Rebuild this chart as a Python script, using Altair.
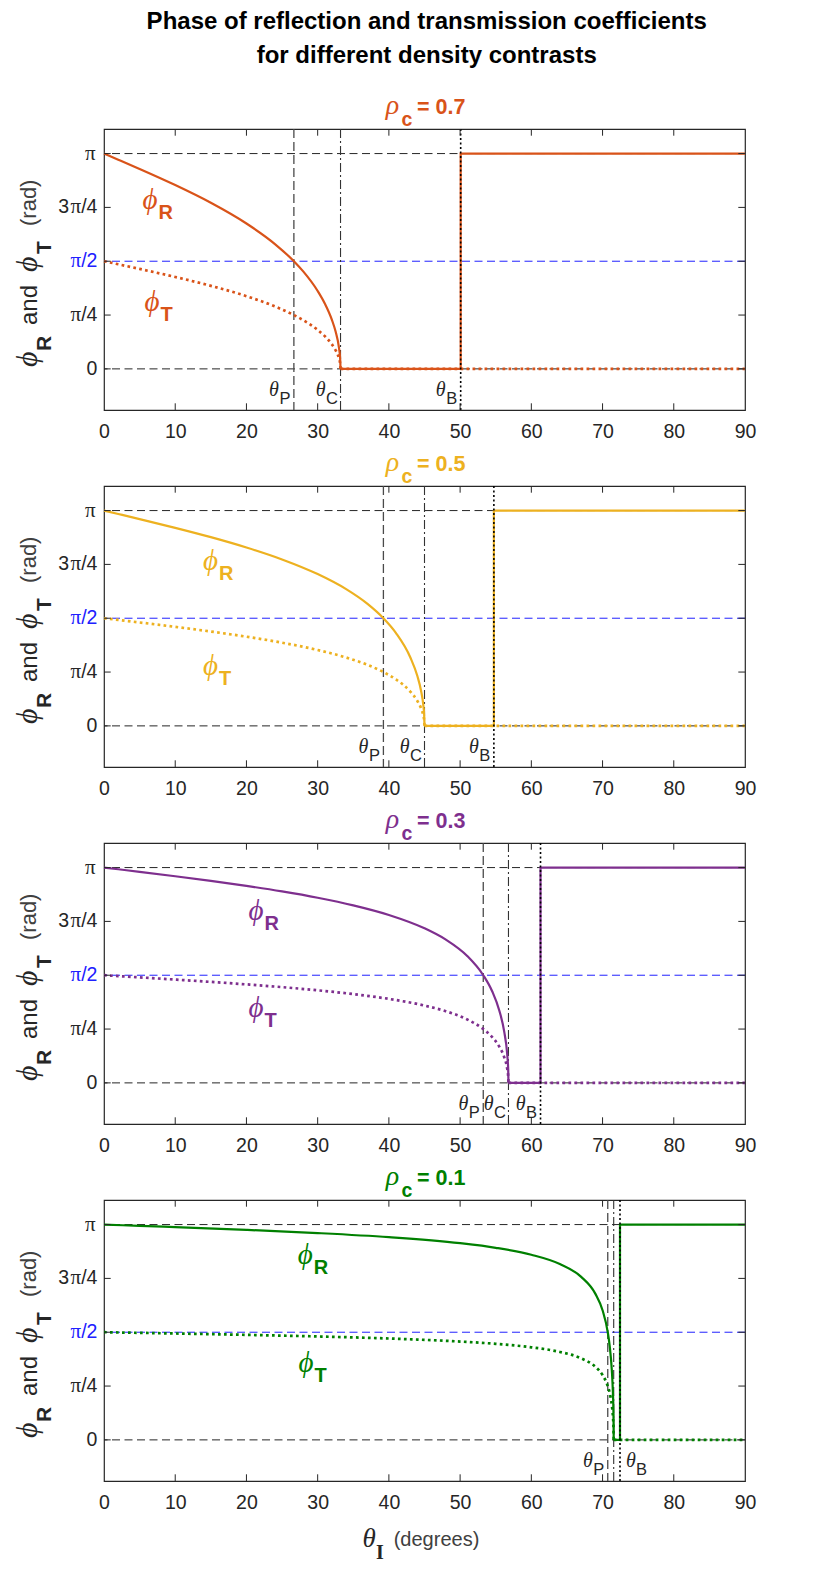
import altair as alt
import pandas as pd

# ---------------- data ----------------
TITLE = ["Phase of reflection and transmission coefficients",
         "for different density contrasts"]
RHO_TXT = ["= 0.7", "= 0.5", "= 0.3", "= 0.1"]
COLORS = ["#D95319", "#EDB120", "#7E2F8E", "#008000"]

# phase curves below the critical angle (theta in degrees, phase in rad)
THETA_07 = [0, 2, 5, 10, 15, 20, 24, 26.66, 28, 30, 31, 32, 32.5, 33, 33.15, 33.21]
PHIR_07 = [3.1416, 3.0523, 2.9169, 2.6819, 2.4235, 2.1212, 1.8216, 1.5708, 1.4188,
           1.1370, 0.9543, 0.7148, 0.5512, 0.3022, 0.1624, 0.0]
PHIT_07 = [1.5708, 1.5262, 1.4585, 1.3410, 1.2118, 1.0606, 0.9108, 0.7854, 0.7094,
           0.5685, 0.4772, 0.3574, 0.2756, 0.1511, 0.0812, 0.0]

THETA_05 = [0, 2, 5, 10, 15, 20, 25, 30, 34, 37, 39.23, 41, 43, 44, 44.5, 44.85, 44.95, 45]
PHIR_05 = [3.1416, 3.0922, 3.0175, 2.8896, 2.7532, 2.6024, 2.4281, 2.2143, 1.9945,
           1.7793, 1.5708, 1.3546, 1.0021, 0.7268, 0.5208, 0.2877, 0.1666, 0.0]
PHIT_05 = [1.5708, 1.5461, 1.5088, 1.4448, 1.3766, 1.3012, 1.2141, 1.1072, 0.9972,
           0.8897, 0.7854, 0.6773, 0.5011, 0.3634, 0.2604, 0.1439, 0.0833, 0.0]

THETA_03 = [0, 2, 5, 10, 15, 20, 25, 30, 35, 40, 45, 48, 51, 53.25, 54.5, 55.5, 56.2,
            56.6, 56.75, 56.79]
PHIR_03 = [3.1416, 3.1166, 3.0788, 3.0145, 2.9470, 2.8744, 2.7940, 2.7016, 2.5909,
           2.4504, 2.2558, 2.0904, 1.8516, 1.5708, 1.3370, 1.0564, 0.7436, 0.4320,
           0.1979, 0.0]
PHIT_03 = [1.5708, 1.5583, 1.5394, 1.5072, 1.4735, 1.4372, 1.3970, 1.3508, 1.2955,
           1.2252, 1.1279, 1.0452, 0.9258, 0.7854, 0.6685, 0.5282, 0.3718, 0.2160,
           0.0990, 0.0]

THETA_01 = [0, 5, 10, 20, 30, 40, 50, 55, 60, 64, 67, 69, 70, 70.73, 71, 71.3, 71.45,
            71.53, 71.565]
PHIR_01 = [3.1416, 3.1231, 3.1044, 3.0643, 3.0177, 2.9579, 2.8695, 2.8025, 2.7016,
           2.5660, 2.3788, 2.1303, 1.8921, 1.5708, 1.3720, 1.0174, 0.7006, 0.3948, 0.0]
PHIT_01 = [1.5708, 1.5616, 1.5522, 1.5322, 1.5089, 1.4790, 1.4348, 1.4013, 1.3508,
           1.2830, 1.1894, 1.0652, 0.9461, 0.7854, 0.6860, 0.5087, 0.3503, 0.1974, 0.0]

THETAS = [THETA_07, THETA_05, THETA_03, THETA_01]
PHIRS = [PHIR_07, PHIR_05, PHIR_03, PHIR_01]
PHITS = [PHIT_07, PHIT_05, PHIT_03, PHIT_01]

# characteristic angles (degrees)
THETA_P = [26.66, 39.23, 53.25, 70.73]
THETA_C = [33.21, 45.0, 56.79, 71.565]
THETA_B = [50.08, 54.74, 61.29, 72.45]
X_END = 90
STEP_Y = [0.0, 0.0, 3.1416, 3.1416]   # phi_R: 0 until theta_B, then pi
FLAT_Y = [0.0, 0.0]                   # phi_T beyond theta_C

H_BLACK = [0.0, 3.1416]
H_BLUE = [1.5708]

XLABELS = [0, 10, 20, 30, 40, 50, 60, 70, 80, 90]
XTICKS = [10, 20, 30, 40, 50, 60, 70, 80]
YTICKS = [0.0, 0.7854, 1.5708, 2.3562, 3.1416]
YLAB_SUF_VAL = [0.0, 0.7854, 1.5708, 2.3562]
YLAB_SUF_TXT = ["0", "/4", "/2", "/4"]
YLAB_PI_VAL = [0.7854, 1.5708, 2.3562]
YLAB_PITOP_VAL = [3.1416]
YLAB_PRE_VAL = [2.3562]
YLAB_PRE_TXT = ["3"]

# curve label anchors (degrees, rad)
LABEL_R_X = [5.4, 13.9, 20.3, 27.2]
LABEL_R_Y = [2.33, 2.273, 2.381, 2.564]
LABEL_T_X = [5.7, 13.9, 20.3, 27.3]
LABEL_T_Y = [0.848, 0.746, 0.956, 0.993]
SHOW_C_LABEL = [True, True, True, False]
B_LABEL_RIGHT = [False, False, False, True]

# ---------------- styling ----------------
W, H = 641, 281
INK = "#262626"
GREY = "#404040"
BLUE = "#2020ff"
SANS = "Liberation Sans, Arial, Helvetica, sans-serif"
SERIF = "Liberation Serif, 'Times New Roman', 'DejaVu Serif', serif"

XS = alt.Scale(domain=[0, 90], nice=False, zero=False)
YS = alt.Scale(domain=[-0.6, 3.5], nice=False, zero=False)

XAXIS = alt.Axis(values=XLABELS, title=None, grid=False, ticks=False, tickSize=0,
                 domain=False, labelFont=SANS, labelFontSize=19.5, labelColor=INK,
                 labelPadding=12.5, labelFlush=False, labelOverlap=False, format="d")


def X():
    return alt.X("x:Q", scale=XS, axis=XAXIS)


def Y():
    return alt.Y("y:Q", scale=YS, axis=None)


def text_layer(data, enc, size, font=SANS, color=INK, weight="normal", style="normal",
               align="left", baseline="alphabetic", angle=None, dx=0, dy=0):
    props = dict(align=align, baseline=baseline, font=font, fontSize=size,
                 fontWeight=weight, fontStyle=style, dx=dx, dy=dy)
    if angle is not None:
        props["angle"] = angle
    e = dict(text="t:N")
    e.update(enc)
    if "color" not in e:
        e["color"] = alt.value(color)
    return alt.Chart(pd.DataFrame(data)).mark_text(**props).encode(**e)


def vtext(t, x, y, size, **kw):
    return text_layer({"t": [t]}, {"x": alt.value(x), "y": alt.value(y)}, size, **kw)


def panel(k):
    col = COLORS[k]
    L = []
    # reference lines
    L.append(alt.Chart(pd.DataFrame({"y": H_BLACK})).mark_rule(
        color=INK, strokeWidth=1, strokeDash=[8, 4.5]).encode(y=Y()))
    L.append(alt.Chart(pd.DataFrame({"y": H_BLUE})).mark_rule(
        color=BLUE, strokeWidth=1, strokeDash=[8, 4.5]).encode(y=Y()))
    L.append(alt.Chart(pd.DataFrame({"x": [THETA_P[k]]})).mark_rule(
        color="#4a4a4a", strokeWidth=1.3, strokeDash=[9, 4]).encode(x=X()))
    L.append(alt.Chart(pd.DataFrame({"x": [THETA_C[k]]})).mark_rule(
        color="#333333", strokeWidth=1.1, strokeDash=[9, 3, 2, 3]).encode(x=X()))
    # phi_T (dotted)
    L.append(alt.Chart(pd.DataFrame({"x": THETAS[k], "y": PHITS[k]})).mark_line(
        color=col, strokeWidth=2.7, strokeDash=[2.7, 3.3], interpolate="monotone"
    ).encode(x=X(), y=Y()))
    L.append(alt.Chart(pd.DataFrame({"x": [THETA_C[k], X_END], "y": FLAT_Y})).mark_line(
        color=col, strokeWidth=2.7, strokeDash=[2.7, 3.3]).encode(x=X(), y=Y()))
    # phi_R (solid)
    L.append(alt.Chart(pd.DataFrame({"x": THETAS[k], "y": PHIRS[k]})).mark_line(
        color=col, strokeWidth=2.2, interpolate="monotone").encode(x=X(), y=Y()))
    L.append(alt.Chart(pd.DataFrame({
        "x": [THETA_C[k], THETA_B[k], THETA_B[k], X_END], "y": STEP_Y, "o": [0, 1, 2, 3]
    })).mark_line(color=col, strokeWidth=2.2).encode(x=X(), y=Y(), order="o:Q"))
    L.append(alt.Chart(pd.DataFrame({"x": [THETA_B[k]]})).mark_rule(
        color="#000000", strokeWidth=1.6, strokeDash=[2, 2.5]).encode(x=X()))
    # inward ticks
    L.append(alt.Chart(pd.DataFrame({"x": XTICKS})).mark_rule(color=INK, strokeWidth=1)
             .encode(x=X(), y=alt.value(H - 6.7), y2=alt.value(H)))
    L.append(alt.Chart(pd.DataFrame({"x": XTICKS})).mark_rule(color=INK, strokeWidth=1)
             .encode(x=X(), y=alt.value(0), y2=alt.value(6.7)))
    L.append(alt.Chart(pd.DataFrame({"y": YTICKS})).mark_rule(color=INK, strokeWidth=1)
             .encode(y=Y(), x=alt.value(0), x2=alt.value(6.7)))
    L.append(alt.Chart(pd.DataFrame({"y": YTICKS})).mark_rule(color=INK, strokeWidth=1)
             .encode(y=Y(), x=alt.value(W - 6.7), x2=alt.value(W)))
    # y tick labels
    blue_if = alt.condition("datum.y > 1.5 && datum.y < 1.6", alt.value(BLUE), alt.value(INK))
    L.append(text_layer({"y": YLAB_SUF_VAL, "t": YLAB_SUF_TXT},
                        {"y": Y(), "x": alt.value(-6.6), "color": blue_if}, 19.5,
                        align="right", baseline="middle"))
    L.append(text_layer({"y": YLAB_PI_VAL, "t": ["π"] * len(YLAB_PI_VAL)},
                        {"y": Y(), "x": alt.value(-23), "color": blue_if}, 21, font=SERIF,
                        align="right", baseline="middle"))
    L.append(text_layer({"y": YLAB_PITOP_VAL, "t": ["π"]},
                        {"y": Y(), "x": alt.value(-8.5)}, 21, font=SERIF,
                        align="right", baseline="middle"))
    L.append(text_layer({"y": YLAB_PRE_VAL, "t": YLAB_PRE_TXT},
                        {"y": Y(), "x": alt.value(-35)}, 19.5,
                        align="right", baseline="middle"))
    # y axis title (rotated, composed)
    L.append(vtext("ϕ", -67.3, 238, 30, font=SERIF, style="italic", angle=270))
    L.append(vtext("R", -53.3, 222, 21, weight="bold", angle=270))
    L.append(vtext("and", -67.3, 196, 24, angle=270))
    L.append(vtext("ϕ", -67.3, 143, 30, font=SERIF, style="italic", angle=270))
    L.append(vtext("T", -53.3, 125, 21, weight="bold", angle=270))
    L.append(vtext("(rad)", -68, 97, 22, color=GREY, angle=270))
    # panel title  rho_c = ...
    L.append(vtext("ρ", 281.7, -15.3, 28, font=SERIF, style="italic", color=col))
    L.append(vtext("c", 297.5, -3.3, 19.5, weight="bold", color=col))
    L.append(vtext(RHO_TXT[k], 313, -15.3, 21.5, weight="bold", color=col))
    # curve labels
    for lx, ly, sub in ((LABEL_R_X[k], LABEL_R_Y[k], "R"), (LABEL_T_X[k], LABEL_T_Y[k], "T")):
        L.append(text_layer({"x": [lx], "y": [ly], "t": ["ϕ"]}, {"x": X(), "y": Y()}, 29,
                            font=SERIF, style="italic", color=col))
        L.append(text_layer({"x": [lx], "y": [ly], "t": [sub]}, {"x": X(), "y": Y()}, 20,
                            weight="bold", color=col, dx=16, dy=10))
    # angle labels
    angle_labels = [(THETA_P[k], "P", False)]
    if SHOW_C_LABEL[k]:
        angle_labels.append((THETA_C[k], "C", False))
    angle_labels.append((THETA_B[k], "B", B_LABEL_RIGHT[k]))
    for ang, sub, right in angle_labels:
        enc_th = {"x": X(), "y": alt.value(H - 14.3)}
        enc_sb = {"x": X(), "y": alt.value(H - 6.3)}
        if right:
            L.append(text_layer({"x": [ang], "t": ["θ"]}, enc_th, 20, font=SERIF,
                                style="italic", align="left", dx=6))
            L.append(text_layer({"x": [ang], "t": [sub]}, enc_sb, 16.5, align="left", dx=16))
        else:
            L.append(text_layer({"x": [ang], "t": ["θ"]}, enc_th, 20, font=SERIF,
                                style="italic", align="right", dx=-15))
            L.append(text_layer({"x": [ang], "t": [sub]}, enc_sb, 16.5, align="left", dx=-14.5))
    if k == 0:
        L.append(vtext(TITLE[0], 322.7, -100, 24, weight="bold", color="#000000",
                       align="center"))
        L.append(vtext(TITLE[1], 322.7, -65.6, 24, weight="bold", color="#000000",
                       align="center"))
        # invisible anchor fixing the top-left of the drawing
        L.append(alt.Chart(pd.DataFrame({"t": ["a"]})).mark_rule(
            strokeOpacity=0, strokeWidth=0.01).encode(
            x=alt.value(-95), x2=alt.value(-94.9), y=alt.value(-120), y2=alt.value(-119.9)))
    if k == 3:
        L.append(vtext("θ", 258.4, 347, 27, font=SERIF, style="italic"))
        L.append(vtext("I", 272, 358.7, 20, font=SERIF, weight="bold"))
        L.append(vtext("(degrees)", 289.7, 345.7, 20, color=GREY))
    return alt.layer(*L).properties(width=W, height=H)


chart = alt.vconcat(*[panel(k) for k in range(4)], spacing=76, bounds="flush").properties(
    padding={"left": 0, "top": 0, "right": 6, "bottom": 6}
).configure_view(stroke=INK, strokeWidth=1.2)

chart.save("out.html", embed_options={"renderer": "svg", "actions": False})
